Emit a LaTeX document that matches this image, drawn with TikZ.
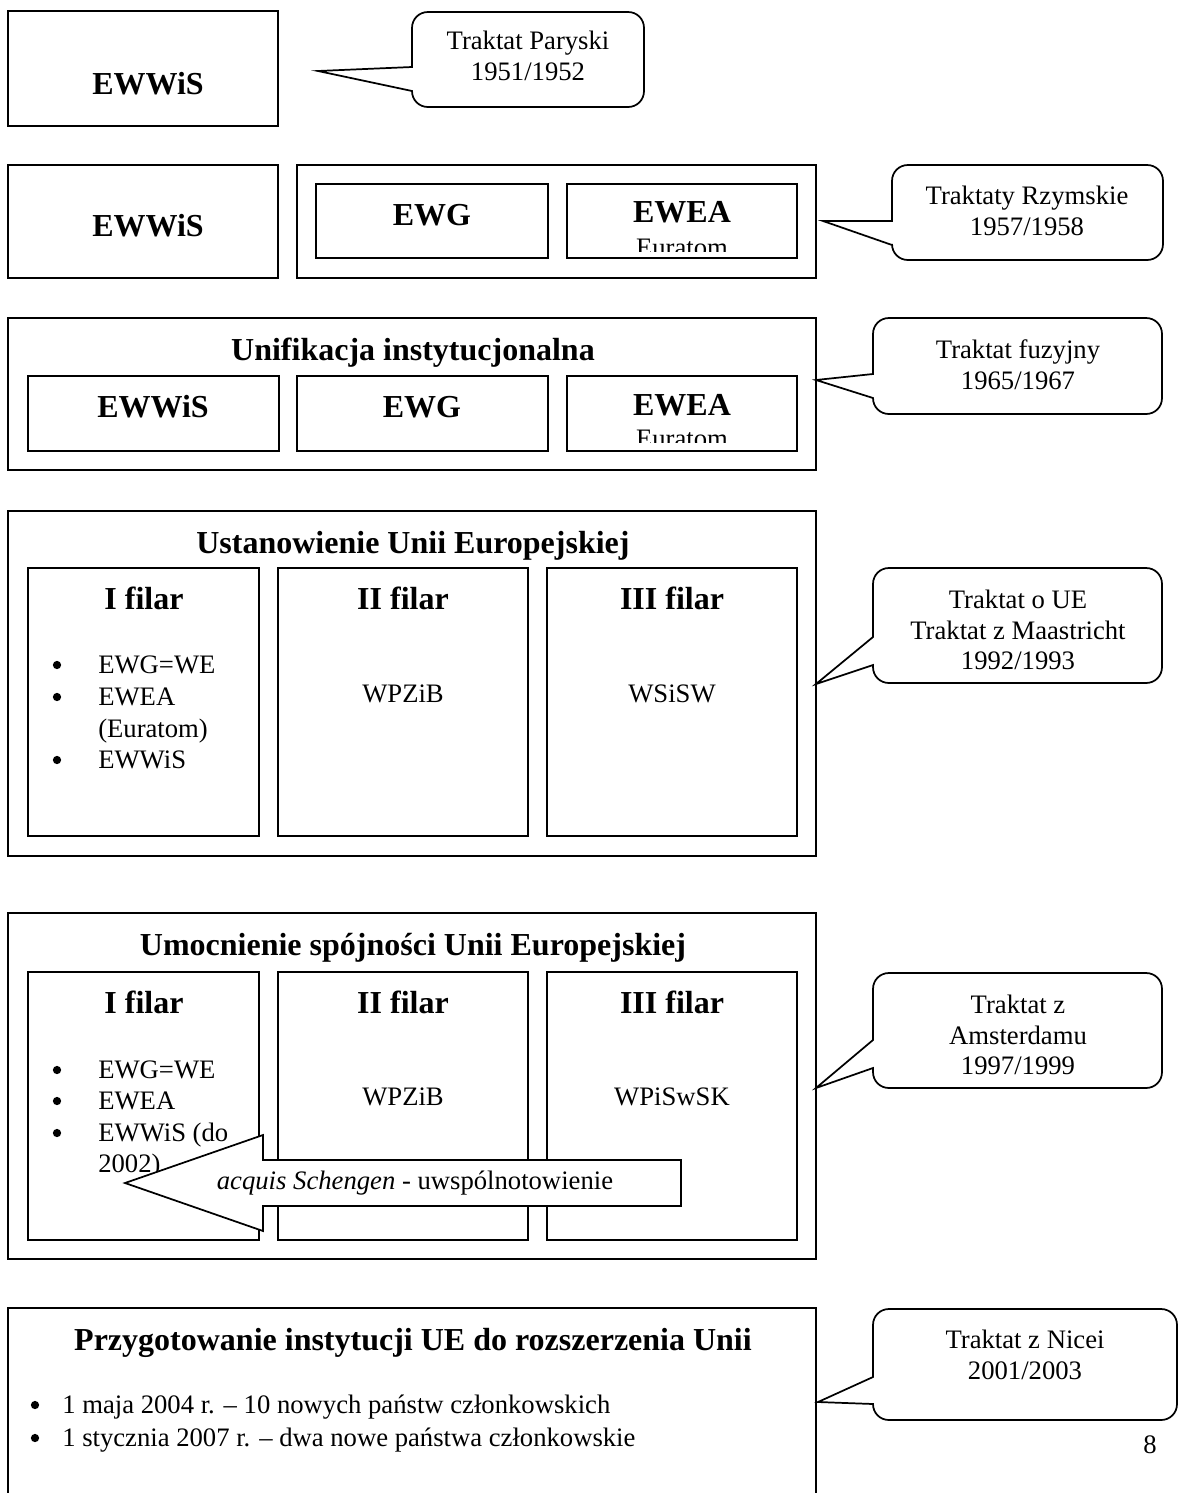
\documentclass[tikz,border=0pt]{standalone}
\usepackage{fontspec}
\setmainfont{Liberation Serif}
\newcommand\drawcallout[8]{%
  \draw[cbox] (#1,#5) -- (#7,#8) -- (#1,#6) -- (#1,#4-16) .. controls (#1,#4-7) and (#1+7,#4) .. (#1+16,#4) -- (#3-16,#4) .. controls (#3-7,#4) and (#3,#4-7) .. (#3,#4-16) -- (#3,#2+16) .. controls (#3,#2+7) and (#3-7,#2) .. (#3-16,#2) -- (#1+16,#2) .. controls (#1+7,#2) and (#1,#2+7) .. (#1,#2+16) -- cycle;}
\begin{document}
\begin{tikzpicture}[x=0.75pt,y=-0.75pt,
  box/.style={draw=black,line width=1.3pt},
  cbox/.style={draw=black,line width=1.3pt,fill=white,line join=miter},
  bt/.style={font=\fontsize{24}{27}\selectfont\bfseries,inner sep=0pt,text height=15.9pt,text depth=0pt},
  rt/.style={font=\fontsize{20}{23}\selectfont,inner sep=0pt,text height=13.2pt,text depth=0pt},
  ct/.style={font=\fontsize{20}{23}\selectfont,inner sep=0pt,align=center},
  li/.style={rt,anchor=west},
  dot/.style={circle,fill=black,inner sep=0pt,minimum size=6.2pt},
]
\useasboundingbox (0,0) rectangle (1180,1493);
\fill[white] (0,0) rectangle (1180,1493);
\clip (0,0) rectangle (1180,1493);

% ---------- Row 1
\draw[box] (8,11) rectangle (278,126);
\node[bt] (r1a) at (148,84) {EWWiS};
\drawcallout{412}{12}{644}{107}{67}{91}{318}{71}
\node[ct] (c1) at (528,56) {Traktat Paryski\\1951/1952};

% ---------- Row 2
\draw[box] (8,165) rectangle (278,278);
\node[bt] (r2a) at (148,226) {EWWiS};
\draw[box] (297,165) rectangle (816,278);
\draw[box] (316,184) rectangle (548,258);
\node[bt] (r2b) at (432,215) {EWG};
\draw[box] (567,184) rectangle (797,258);
\node[bt] (r2c) at (682,212) {EWEA};
\begin{scope}
  \clip (567,184) rectangle (797,251);
  \node[rt] (r2d) at (682,248) {Euratom};
\end{scope}
\drawcallout{892}{165}{1163}{260}{221}{245}{823}{221}
\node[ct] (c2) at (1027,211) {Traktaty Rzymskie\\1957/1958};

% ---------- Row 3
\draw[box] (8,318) rectangle (816,470);
\node[bt] (r3t) at (413,350) {Unifikacja instytucjonalna};
\draw[box] (28,376) rectangle (279,451);
\draw[box] (297,376) rectangle (548,451);
\draw[box] (567,376) rectangle (797,451);
\node[bt] (r3a) at (153,407) {EWWiS};
\node[bt] (r3b) at (422,407) {EWG};
\node[bt] (r3c) at (682,405) {EWEA};
\begin{scope}
  \clip (567,376) rectangle (797,442);
  \node[rt] (r3d) at (682,439) {Euratom};
\end{scope}
\drawcallout{873}{318}{1162}{414}{374}{398}{816}{380}
\node[ct] (c3) at (1018,365) {Traktat fuzyjny\\1965/1967};

% ---------- Row 4
\draw[box] (8,511) rectangle (816,856);
\node[bt] (r4t) at (413,543) {Ustanowienie Unii Europejskiej};
\draw[box] (28,568) rectangle (259,836);
\draw[box] (278,568) rectangle (528,836);
\draw[box] (547,568) rectangle (797,836);
\node[bt] (r4p1) at (144,599) {I filar};
\node[bt] (r4p2) at (403,599) {II filar};
\node[bt] (r4p3) at (672,599) {III filar};
\node[dot] (r4b1) at (57,665) {};
\node[dot] (r4b2) at (57,697) {};
\node[dot] (r4b3) at (57,760) {};
\node[li] (r4i1) at (98,665) {EWG=WE};
\node[li] (r4i2) at (98,697) {EWEA};
\node[li] (r4i3) at (98,729) {(Euratom)};
\node[li] (r4i4) at (98,760) {EWWiS};
\node[rt] (r4w2) at (403,694) {WPZiB};
\node[rt] (r4w3) at (672,694) {WSiSW};
\drawcallout{873}{568}{1162}{683}{637}{665}{816}{684}
\node[ct] (c4) at (1018,630) {Traktat o UE\\Traktat z Maastricht\\1992/1993};

% ---------- Row 5
\draw[box] (8,913) rectangle (816,1259);
\node[bt] (r5t) at (413,945) {Umocnienie spójności Unii Europejskiej};
\draw[box] (28,972) rectangle (259,1240);
\draw[box] (278,972) rectangle (528,1240);
\draw[box] (547,972) rectangle (797,1240);
\node[bt] (r5p1) at (144,1003) {I filar};
\node[bt] (r5p2) at (403,1003) {II filar};
\node[bt] (r5p3) at (672,1003) {III filar};
\node[dot] (r5b1) at (57,1070) {};
\node[dot] (r5b2) at (57,1101) {};
\node[dot] (r5b3) at (57,1133) {};
\node[li] (r5i1) at (98,1070) {EWG=WE};
\node[li] (r5i2) at (98,1101) {EWEA};
\node[li] (r5i3) at (98,1133) {EWWiS (do};
\node[li] (r5i4) at (98,1164) {2002)};
\node[rt] (r5w2) at (403,1097) {WPZiB};
\node[rt] (r5w3) at (672,1097) {WPiSwSK};
\draw[cbox] (681,1160) -- (263,1160) -- (263,1135) -- (125,1183) -- (263,1231) -- (263,1206) -- (681,1206) -- cycle;
\node[rt] (arr) at (415,1181) {\textit{acquis Schengen} - uwspólnotowienie};
\drawcallout{873}{973}{1162}{1088}{1040}{1068}{816}{1088}
\node[ct] (c5) at (1018,1035) {Traktat z\\Amsterdamu\\1997/1999};

% ---------- Row 6
\draw[box] (8,1308) rectangle (816,1520);
\node[bt] (r6t) at (413,1340) {Przygotowanie instytucji UE do rozszerzenia Unii};
\node[dot] (r6b1) at (35,1405) {};
\node[dot] (r6b2) at (35,1438) {};
\node[li] (r6i1) at (62,1405) {1 maja 2004 r. – 10 nowych państw członkowskich};
\node[li] (r6i2) at (62,1438) {1 stycznia 2007 r. – dwa nowe państwa członkowskie};
\drawcallout{873}{1309}{1177}{1420}{1377}{1404}{818}{1402}
\node[ct] (c6) at (1025,1355) {Traktat z Nicei\\2001/2003};
\node[rt] (pg) at (1150,1445) {8};
\end{tikzpicture}
\end{document}
